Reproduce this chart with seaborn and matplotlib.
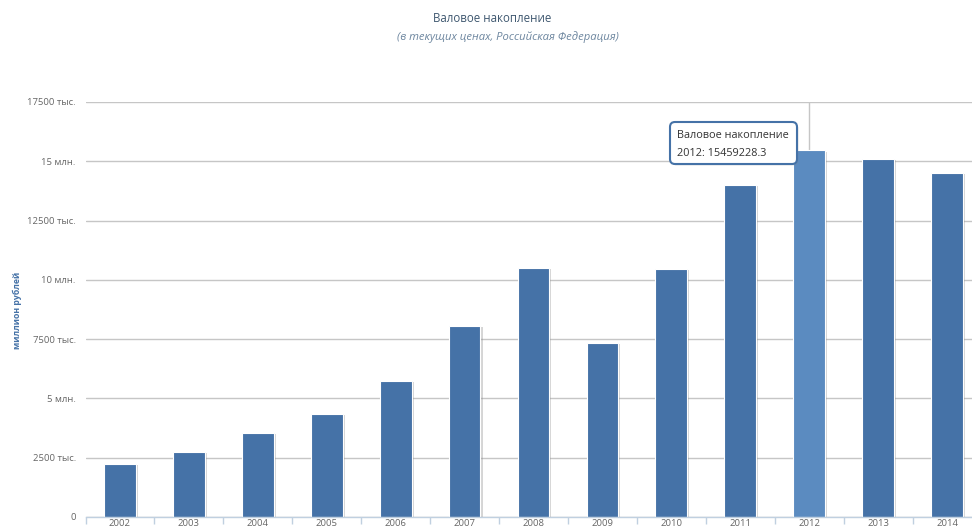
import matplotlib
matplotlib.use("Agg")
import matplotlib.pyplot as plt
import matplotlib.patheffects as pe
from matplotlib.patches import FancyBboxPatch
from matplotlib.transforms import IdentityTransform
from matplotlib.ticker import FuncFormatter, FixedLocator
import seaborn as sns
import pandas as pd

# Gross capital formation, Russian Federation, current prices
years = ["2002", "2003", "2004", "2005", "2006", "2007", "2008",
         "2009", "2010", "2011", "2012", "2013", "2014"]
values = [2235000, 2740000, 3545000, 4340000, 5740000, 8060000, 10500000,
          7340000, 10460000, 14000000, 15459228.3, 15100000, 14510000]
highlight_year = "2012"

title = "Валовое накопление"
subtitle = "(в текущих ценах, Российская Федерация)"
y_label = "миллион рублей"
series_name = "Валовое накопление"

BAR = "#4572A7"
BAR_HI = "#5B8BC0"
GRID = "#C6C6C6"
AXIS = "#C0D0E0"
LABEL = "#666666"

sns.set_theme(style="white")
plt.rcParams["font.family"] = ["Open Sans", "DejaVu Sans"]

df = pd.DataFrame({"year": years, "value": values})
palette = {y: (BAR_HI if y == highlight_year else BAR) for y in years}

fig = plt.figure(figsize=(9.72, 5.31), dpi=100)
ax = fig.add_axes([85.5 / 972, 14 / 531, 896 / 972, 415 / 531])

sns.barplot(data=df, x="year", y="value", hue="year", palette=palette,
            order=years, width=0.46, legend=False, ax=ax, saturation=1,
            edgecolor="white", linewidth=0.8, zorder=3)
for p in ax.patches:
    p.set_path_effects([pe.SimplePatchShadow(offset=(1.5, -1.0),
                                             shadow_rgbFace="#888888", alpha=0.35),
                        pe.Normal()])

ax.set_xlim(-0.5, len(years) - 0.5)
ax.set_ylim(0, 17500000)


def fmt(v, _):
    if v == 0:
        return "0"
    if v % 1000000 == 0:
        return f"{int(v / 1000000)} млн."
    return f"{int(v / 1000)} тыс."


ax.yaxis.set_major_locator(FixedLocator([i * 2500000 for i in range(8)]))
ax.yaxis.set_major_formatter(FuncFormatter(fmt))
ax.grid(axis="y", color=GRID, linewidth=1, zorder=0)
ax.grid(axis="x", visible=False)
ax.set_axisbelow(True)

for s in ["top", "right", "left"]:
    ax.spines[s].set_visible(False)
ax.spines["bottom"].set_color(AXIS)
ax.spines["bottom"].set_linewidth(1)
ax.spines["bottom"].set_zorder(4)

ax.tick_params(axis="y", length=0, pad=7, labelsize=6.8, labelcolor=LABEL)
ax.tick_params(axis="x", which="major", length=0, pad=1.5, labelsize=6.8, labelcolor=LABEL)
ax.xaxis.set_minor_locator(FixedLocator([i - 0.5 for i in range(len(years) + 1)]))
ax.tick_params(axis="x", which="minor", length=5, width=1, color=AXIS, direction="out", bottom=True)
ax.set_xlabel("")
ax.set_ylabel("")

# crosshair on the hovered category
hi_idx = years.index(highlight_year)
ax.axvline(hi_idx, color=GRID, linewidth=1, zorder=1)

fig.text(17 / 972, 1 - 310 / 531, y_label, rotation=90, ha="center", va="center",
         fontsize=6.3, fontweight="bold", color=BAR)

fig.text(492 / 972, 1 - 19 / 531, title, ha="center", va="center",
         fontsize=8.3, color="#3E576F")
fig.text(508 / 972, 1 - 37 / 531, subtitle, ha="center", va="center",
         fontsize=8.1, color="#6D869F", style="italic")

# tooltip
H = 531
box = FancyBboxPatch((670, H - 164), 127, 42,
                     boxstyle="round,pad=0,rounding_size=5",
                     transform=IdentityTransform(), facecolor="white",
                     edgecolor=BAR, linewidth=1.5, zorder=10,
                     path_effects=[pe.SimplePatchShadow(offset=(1, -1), shadow_rgbFace="#888888", alpha=0.3),
                                   pe.Normal()])
fig.patches.append(box)
hi_val = values[hi_idx]
fig.text(677 / 972, 1 - 135 / 531, series_name, ha="left", va="center",
         fontsize=7.8, color="#333333", zorder=11)
fig.text(677 / 972, 1 - 154 / 531, f"{highlight_year}: {hi_val}", ha="left", va="center",
         fontsize=7.8, color="#333333", zorder=11)

fig.savefig("out.png", dpi=100)
